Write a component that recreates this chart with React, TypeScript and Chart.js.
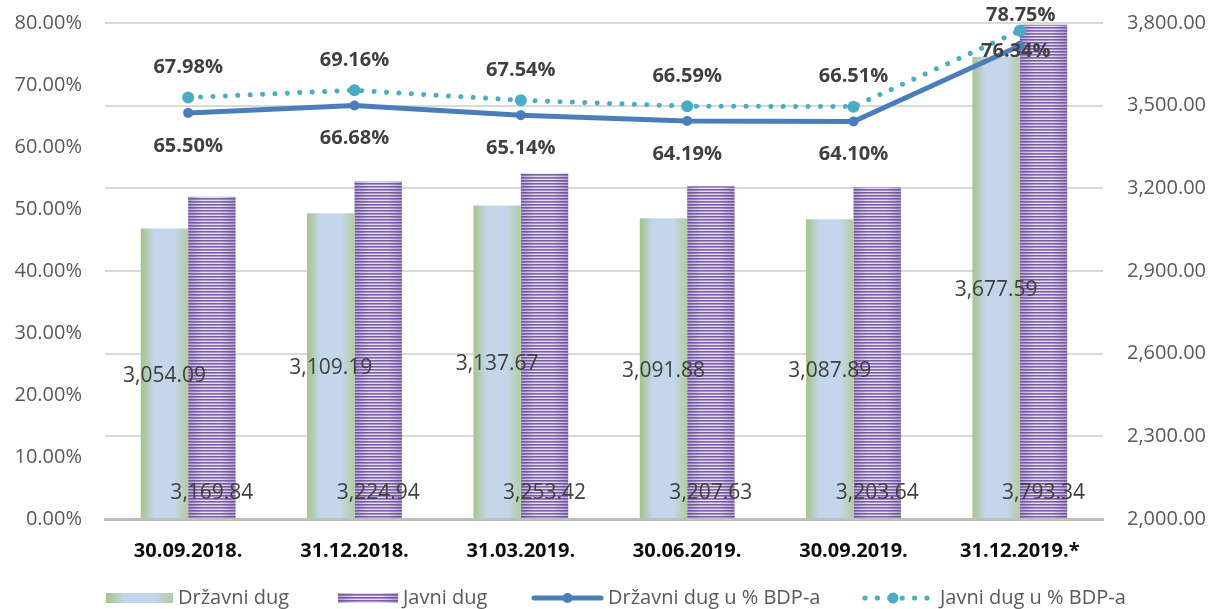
import React, { useEffect, useRef } from 'react';
import { Chart, registerables } from 'chart.js';

Chart.register(...registerables);

const categories = ['30.09.2018.', '31.12.2018.', '31.03.2019.', '30.06.2019.', '30.09.2019.', '31.12.2019.*'];
const drzavniDug = [3054.09, 3109.19, 3137.67, 3091.88, 3087.89, 3677.59];
const javniDug = [3169.84, 3224.94, 3253.42, 3207.63, 3203.64, 3793.34];
const drzavniPct = [65.5, 66.68, 65.14, 64.19, 64.1, 76.34];
const javniPct = [67.98, 69.16, 67.54, 66.59, 66.51, 78.75];
const seriesNames = ['Državni dug', 'Javni dug', 'Državni dug u % BDP-a', 'Javni dug u % BDP-a'];

const FONT = '"Open Sans", "DejaVu Sans", sans-serif';
const CAT_PCT = 0.57;
const BLUE = '#4a7ebb';
const TEAL = '#4bacc6';
const RIGHT_MIN = 2000;

function fmtNum(v: number) {
  return v.toLocaleString('en-US', { minimumFractionDigits: 2, maximumFractionDigits: 2 });
}

function greenFill(ctx: CanvasRenderingContext2D, left: number, w: number) {
  const g = ctx.createLinearGradient(left, 0, left + w, 0);
  g.addColorStop(0, '#a4c488');
  g.addColorStop(0.28, '#c3d6ec');
  g.addColorStop(0.72, '#c3d6ec');
  g.addColorStop(1, '#b4cc9f');
  return g;
}

function purplePattern(ctx: CanvasRenderingContext2D, left: number, w: number) {
  const c = document.createElement('canvas');
  const W = Math.max(2, Math.round(w));
  c.width = W;
  c.height = 3;
  const p = c.getContext('2d')!;
  p.fillStyle = '#7e60a8';
  p.fillRect(0, 0, W, 1);
  p.fillStyle = '#a690c8';
  p.fillRect(0, 1, W, 1);
  p.fillStyle = '#e6def2';
  p.fillRect(0, 2, W, 1);
  const g = p.createLinearGradient(0, 0, W, 0);
  g.addColorStop(0, 'rgba(90,60,140,0.35)');
  g.addColorStop(0.3, 'rgba(90,60,140,0)');
  g.addColorStop(0.7, 'rgba(90,60,140,0)');
  g.addColorStop(1, 'rgba(90,60,140,0.35)');
  p.fillStyle = g;
  p.fillRect(0, 0, W, 3);
  const pat = ctx.createPattern(c, 'repeat')!;
  try {
    pat.setTransform(new DOMMatrix().translate(left, 0));
  } catch (e) {}
  return pat;
}

function barGeom(chart: any, idx: number, which: number) {
  const xs = chart.scales.x;
  if (!xs || !xs.width) return null;
  const n = categories.length;
  const catW = xs.width / n;
  const barW = (catW * CAT_PCT) / 2;
  const center = xs.getPixelForValue(idx);
  const left = center - barW + which * barW;
  return { left, w: barW };
}

const labelsPlugin = {
  id: 'customLabels',
  afterDatasetsDraw(chart: any) {
    const ctx = chart.ctx as CanvasRenderingContext2D;
    const bottom = chart.chartArea.bottom;
    ctx.save();
    ctx.textAlign = 'center';
    ctx.textBaseline = 'middle';
    ctx.fillStyle = '#404040';
    ctx.font = `21px ${FONT}`;
    const m0 = chart.getDatasetMeta(0);
    m0.data.forEach((el: any, i: number) => {
      ctx.fillText(fmtNum(drzavniDug[i]), el.x, (el.y + bottom) / 2 + 2);
    });
    const m1 = chart.getDatasetMeta(1);
    m1.data.forEach((el: any, i: number) => {
      ctx.fillText(fmtNum(javniDug[i]), el.x, bottom - 26);
    });
    ctx.font = `bold 20px ${FONT}`;
    const last = categories.length - 1;
    const m2 = chart.getDatasetMeta(2);
    m2.data.forEach((pt: any, i: number) => {
      const t = drzavniPct[i].toFixed(2) + '%';
      if (i === last) ctx.fillText(t, pt.x - 4, pt.y + 6);
      else ctx.fillText(t, pt.x, pt.y + 33);
    });
    const m3 = chart.getDatasetMeta(3);
    m3.data.forEach((pt: any, i: number) => {
      const t = javniPct[i].toFixed(2) + '%';
      if (i === last) ctx.fillText(t, pt.x + 1, pt.y - 15);
      else ctx.fillText(t, pt.x, pt.y - 30);
    });
    ctx.restore();
  },
};

const legendPlugin = {
  id: 'customLegend',
  afterDraw(chart: any) {
    const ctx = chart.ctx as CanvasRenderingContext2D;
    const cy = 598;
    const symX = [106, 338, 532, 862];
    const symW = [67, 60, 71, 68];
    const textGap = [5, 5, 5, 10];
    ctx.save();
    ctx.fillStyle = greenFill(ctx, symX[0], symW[0]);
    ctx.fillRect(symX[0], cy - 5, symW[0], 10);
    ctx.fillStyle = purplePattern(ctx, symX[1], symW[1]);
    ctx.fillRect(symX[1], cy - 5, symW[1], 10);
    ctx.strokeStyle = BLUE;
    ctx.lineWidth = 5;
    ctx.lineCap = 'round';
    ctx.beginPath();
    ctx.moveTo(symX[2] + 2, cy);
    ctx.lineTo(symX[2] + symW[2] - 2, cy);
    ctx.stroke();
    ctx.fillStyle = BLUE;
    ctx.beginPath();
    ctx.arc(symX[2] + symW[2] / 2, cy, 5, 0, Math.PI * 2);
    ctx.fill();
    ctx.fillStyle = TEAL;
    for (let k = 0; k < 6; k++) {
      const dx = symX[3] + 3 + k * 12.4;
      ctx.beginPath();
      ctx.arc(dx, cy, 2.6, 0, Math.PI * 2);
      ctx.fill();
    }
    ctx.beginPath();
    ctx.arc(symX[3] + symW[3] / 2 - 3, cy, 5.5, 0, Math.PI * 2);
    ctx.fill();
    ctx.fillStyle = '#595959';
    ctx.font = `20px ${FONT}`;
    ctx.textAlign = 'left';
    ctx.textBaseline = 'middle';
    seriesNames.forEach((s, i) => {
      ctx.fillText(s, symX[i] + symW[i] + textGap[i], cy);
    });
    ctx.restore();
  },
};

export default function App() {
  const ref = useRef<HTMLCanvasElement | null>(null);
  useEffect(() => {
    if (!ref.current) return;
    const chart = new Chart(ref.current, {
      type: 'bar',
      data: {
        labels: categories,
        datasets: [
          {
            type: 'bar',
            label: seriesNames[0],
            data: drzavniDug,
            yAxisID: 'y1',
            order: 3,
            base: RIGHT_MIN,
            categoryPercentage: CAT_PCT,
            barPercentage: 1,
            borderWidth: 0,
            backgroundColor: (c: any) => {
              const g = barGeom(c.chart, c.dataIndex, 0);
              if (!g) return '#c3d6ec';
              return greenFill(c.chart.ctx, g.left, g.w);
            },
          } as any,
          {
            type: 'bar',
            label: seriesNames[1],
            data: javniDug,
            yAxisID: 'y1',
            order: 3,
            base: RIGHT_MIN,
            categoryPercentage: CAT_PCT,
            barPercentage: 1,
            borderWidth: 0,
            backgroundColor: (c: any) => {
              const g = barGeom(c.chart, c.dataIndex, 1);
              if (!g) return '#a894c8';
              return purplePattern(c.chart.ctx, g.left, g.w);
            },
          } as any,
          {
            type: 'line',
            label: seriesNames[2],
            data: drzavniPct,
            yAxisID: 'y',
            order: 1,
            borderColor: BLUE,
            backgroundColor: BLUE,
            borderWidth: 5,
            tension: 0,
            pointRadius: 5,
            pointBackgroundColor: BLUE,
            pointBorderWidth: 0,
            borderCapStyle: 'round',
          } as any,
          {
            type: 'line',
            label: seriesNames[3],
            data: javniPct,
            yAxisID: 'y',
            order: 0,
            borderColor: TEAL,
            backgroundColor: TEAL,
            borderWidth: 5,
            borderDash: [0.01, 12.4],
            borderCapStyle: 'round',
            tension: 0,
            pointRadius: 6,
            pointBackgroundColor: TEAL,
            pointBorderWidth: 0,
          } as any,
        ],
      },
      options: {
        animation: false,
        responsive: false,
        devicePixelRatio: 1,
        layout: { padding: { top: 23, bottom: 40, left: 0, right: 0 } },
        plugins: { legend: { display: false }, tooltip: { enabled: false } },
        scales: {
          x: {
            grid: { display: false },
            border: { display: true, color: '#bfbfbf', width: 3 },
            ticks: {
              color: '#0d0d0d',
              font: { family: FONT, size: 20, weight: 'bold' },
              padding: 12,
              maxRotation: 0,
            },
            afterFit: (s: any) => {
              s.height = 50;
            },
          },
          y: {
            position: 'left',
            min: 0,
            max: 80,
            grid: { display: false, drawTicks: false },
            border: { display: false },
            ticks: {
              stepSize: 10,
              color: '#595959',
              font: { family: FONT, size: 20 },
              padding: 23,
              callback: (v: any) => Number(v).toFixed(2) + '%',
            },
            afterFit: (s: any) => {
              s.width = 105;
              s.paddingTop = 0;
              s.paddingBottom = 0;
            },
          },
          y1: {
            position: 'right',
            min: RIGHT_MIN,
            max: 3800,
            grid: { display: true, color: '#d9d9d9', lineWidth: 2, drawTicks: false },
            border: { display: false },
            ticks: {
              stepSize: 300,
              color: '#595959',
              font: { family: FONT, size: 20 },
              padding: 24,
              callback: (v: any) => fmtNum(Number(v)),
            },
            afterFit: (s: any) => {
              s.width = 110;
              s.paddingTop = 0;
              s.paddingBottom = 0;
            },
          },
        },
      } as any,
      plugins: [labelsPlugin, legendPlugin],
    });
    return () => chart.destroy();
  }, []);
  return (
    <div style={{ position: 'absolute', left: 0, top: 0, width: 1213, height: 609, background: '#fff' }}>
      <canvas ref={ref} width={1213} height={609} style={{ display: 'block' }} />
    </div>
  );
}
